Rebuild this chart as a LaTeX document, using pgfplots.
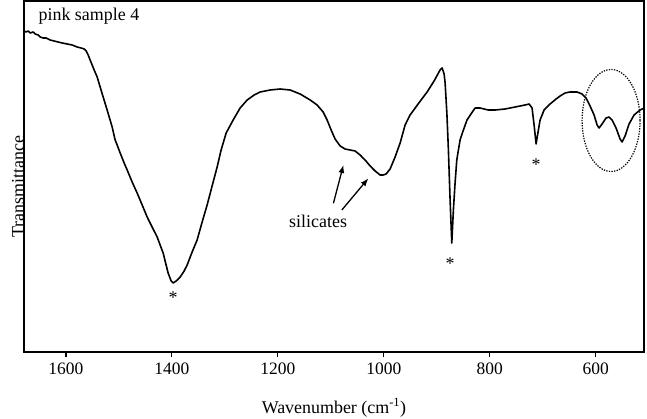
\documentclass[border=0pt]{standalone}
\usepackage{fontspec}
\setmainfont{Liberation Serif}
\usepackage{pgfplots}
\pgfplotsset{compat=1.18}
\usetikzlibrary{arrows.meta}
\begin{document}
\begin{tikzpicture}
\begin{axis}[
  scale only axis,
  width=620bp, height=351bp,
  x dir=reverse,
  xmin=509, xmax=1679,
  ymin=6, ymax=357,
  xtick={600,800,1000,1200,1400,1600},
  ytick=\empty,
  xtick pos=bottom,
  tick align=outside,
  major tick length=5bp,
  axis line style={line width=1.3bp},
  every tick/.style={black, line width=1.3bp},
  /pgf/number format/assume math mode=true,
  /pgf/number format/1000 sep={},
  xticklabel style={font=\fontsize{17.5}{20}\selectfont, yshift=-2bp},
  xlabel={Wavenumber (cm\textsuperscript{-1})},
  ylabel={Transmittance},
  every axis x label/.style={at={(axis description cs:0.5,0)}, anchor=base, yshift=-61bp, font=\fontsize{18}{21}\selectfont},
  every axis y label/.style={at={(axis description cs:0,0.5)}, rotate=90, anchor=base, xshift=-10bp, font=\fontsize{18}{21}\selectfont},
  clip=false,
]
\addplot[black, line width=1.6bp, line join=round] coordinates {
(1678.7,327)(1674.9,326)(1671.1,327)(1667.4,325)(1661.7,326)(1657.9,324)
(1652.3,323)(1648.5,321)(1642.8,320)(1637.2,320)(1629.6,318)(1622.1,317)
(1614.5,316)(1607.0,315)(1597.5,314)(1588.1,313)(1578.7,311)(1571.1,310)
(1565.5,309)(1561.7,307)(1557.9,303)(1554.2,298)(1546.6,288)(1540.9,281)
(1535.3,271)(1529.6,261)(1522.1,248)(1512.6,231)(1507.0,218)(1503.2,213)
(1497.5,205)(1490.0,195)(1484.3,188)(1474.9,176)(1465.5,165)(1456.0,153)
(1446.6,141)(1437.2,131)(1427.7,121)(1422.1,113)(1416.4,105)(1410.8,93)
(1407.0,85)(1401.3,77)(1397.5,75)(1391.9,77)(1384.3,81)(1376.8,87)
(1371.1,93)(1361.7,106)(1352.3,118)(1342.8,136)(1333.4,153)(1324.0,172)
(1314.5,191)(1307.0,208)(1297.5,225)(1284.3,238)(1271.1,250)(1257.9,258)
(1244.7,263)(1233.4,266)(1214.5,268)(1195.6,269)(1176.8,268)(1157.9,264)
(1139.0,258)(1125.8,253)(1114.5,246)(1107.0,238)(1099.4,228)(1091.9,219)
(1082.4,212)(1073.0,209)(1063.6,208)(1054.1,207)(1044.7,203)(1035.3,198)
(1025.8,192)(1016.4,187)(1007.0,183)(1001.3,183)(995.7,184)(988.1,189)
(978.7,201)(969.2,215)(959.8,233)(950.4,243)(935.3,254)(918.3,266)
(905.1,277)(893.8,288)(890.0,290)(886.2,284)(884.3,275)(881.0,245)
(878.1,208)(874.9,158)(871.7,115)(868.7,148)(865.5,175)(862.3,198)
(856.1,218)(849.8,228)(843.0,238)(833.0,246)(827.7,250)(818.3,250)
(803.2,248)(790.0,248)(771.1,249)(752.2,251)(733.4,253)(725.8,254)
(720.2,250)(716.4,233)(712.6,214)(708.9,226)(705.1,238)(697.5,248)
(686.2,254)(674.9,259)(667.3,262)(657.9,265)(648.5,266)(635.3,266)
(625.8,264)(618.3,260)(610.8,252)(603.2,243)(597.5,233)(593.8,230)
(588.1,234)(580.6,240)(574.9,241)(569.2,238)(561.7,230)(554.1,219)
(550.4,216)(544.7,222)(537.2,234)(527.7,243)(516.4,248)(508.9,250)
};
\coordinate (sw) at (rel axis cs:0,0);
\coordinate (ne) at (rel axis cs:1,1);
\node[anchor=base west, font=\fontsize{18}{21}\selectfont] at (axis cs:1658,337) {pink sample 4};
\node[font=\fontsize{18}{21}\selectfont] at (axis cs:1397.5,60) {*};
\node[font=\fontsize{18}{21}\selectfont] at (axis cs:874.9,94) {*};
\node[font=\fontsize{18}{21}\selectfont] at (axis cs:712.6,193) {*};
\node[anchor=base, font=\fontsize{18}{21}\selectfont] at (axis cs:1124,130) {silicates};
\draw[line width=1.3bp, -{Latex[length=8bp,width=6bp]}] (axis cs:1095.1,154.7) -- (axis cs:1076.2,193);
\draw[line width=1.3bp, -{Latex[length=8bp,width=6bp]}] (axis cs:1079.2,148) -- (axis cs:1029.1,179.7);
\draw[line width=1.2bp, dash pattern=on 1.3bp off 1.3bp] (axis cs:571.1,237.5) ellipse [x radius=29bp, y radius=51bp];
\end{axis}
\pgfresetboundingbox
\path ([shift={(-24bp,-67bp)}]sw) rectangle ([shift={(3bp,1bp)}]ne);
\end{tikzpicture}
\end{document}
